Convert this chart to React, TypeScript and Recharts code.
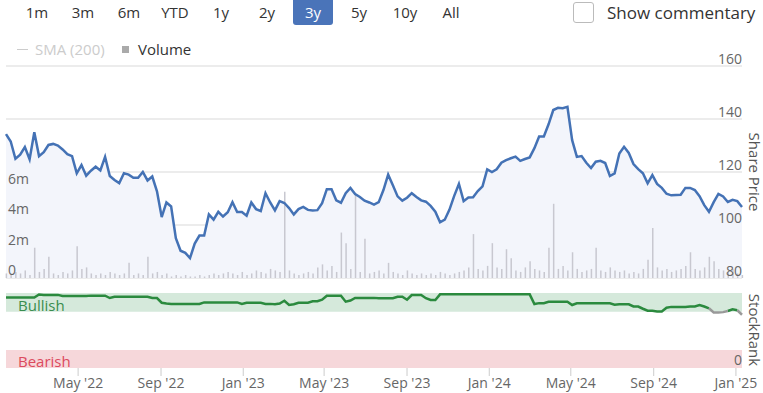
import React from "react";
import {
  ComposedChart,
  Area,
  Line,
  Bar,
  XAxis,
  YAxis,
  CartesianGrid,
  ReferenceArea,
} from "recharts";

const FONT = "'Open Sans', sans-serif";

const ranges = ["1m", "3m", "6m", "YTD", "1y", "2y", "3y", "5y", "10y", "All"];
const selectedRange = "3y";

// weekly closes, first week ending 14 Jan 2022
const firstWeek = "2022-01-14";

const prices = [
  134.3, 131.5, 125, 126.5, 129.4, 124.8, 135, 126, 127.5, 130.2,
  130.6, 130, 128.5, 126.7, 126, 119.5, 122.6, 118.6, 120.5, 122,
  120.6, 125.7, 118.5, 117, 115.8, 119.5, 119, 117.8, 117.8, 120,
  116.8, 118.3, 112.7, 103, 108.5, 107, 95, 90.3, 89.5, 87.5,
  93, 96, 96, 104, 102, 105, 103.2, 104.8, 108.6, 104.9,
  104.9, 103.5, 108.5, 106, 105.3, 112, 108.5, 105.5, 109, 108.3,
  106.4, 104, 106, 106.8, 105.7, 105.5, 105.6, 108.2, 113.5, 113.5,
  109.3, 108.4, 112, 114, 111.7, 110.6, 109.2, 108.5, 107.7, 108.6,
  113.2, 119, 115, 110.8, 109.2, 110.3, 112, 110.6, 109.3, 108.8,
  107.2, 105, 101, 102, 105.8, 111, 115.5, 109, 110.4, 110.5,
  112.8, 114.6, 121, 120, 121, 123.5, 124.5, 125.2, 125.8, 124.2,
  124.9, 125.5, 129, 133.4, 133.4, 138, 143.4, 144.2, 144.1, 144.6,
  132, 125.7, 126, 123.5, 121.5, 123.9, 124.2, 123.4, 118.5, 119.5,
  127, 129.5, 127.2, 123, 121.1, 119.5, 115.7, 118.8, 115.5, 114,
  111.8, 111.2, 111.3, 111.4, 114, 114, 113.2, 110.9, 107.5, 105,
  108.6, 111.7, 110.8, 108.7, 109.5, 109, 106.8,
];

// weekly volume, millions
const volumes = [
  0.3, 0.2, 0.4, 0.3, 0.5, 0.2, 2.0, 0.4, 0.6, 1.4,
  0.3, 0.2, 0.4, 0.3, 0.5, 2.1, 0.6, 0.7, 0.3, 0.2,
  0.3, 0.2, 0.4, 0.3, 0.2, 0.3, 1.0, 0.2, 0.3, 0.2,
  1.4, 0.3, 0.4, 0.2, 0.3, 0.1, 0.2, 0.1, 0.2, 0.1,
  0.1, 0.2, 0.1, 0.2, 0.3, 0.2, 0.3, 0.4, 0.3, 0.2,
  0.4, 0.2, 0.3, 0.5, 0.4, 0.3, 0.6, 0.5, 0.4, 5.7,
  0.5, 0.3, 0.2, 0.3, 0.4, 0.3, 0.7, 0.9, 0.5, 0.8,
  0.4, 3.0, 2.3, 0.6, 5.5, 0.4, 2.6, 0.3, 0.4, 0.5,
  0.3, 1.0, 0.4, 0.3, 0.2, 0.5, 0.3, 0.2, 0.3, 0.2,
  0.3, 0.2, 0.4, 0.3, 0.2, 0.3, 0.4, 0.5, 0.7, 2.9,
  0.6, 0.5, 0.8, 2.3, 0.7, 0.6, 1.9, 1.3, 0.5, 0.4,
  0.7, 1.1, 0.6, 0.5, 0.4, 2.0, 4.9, 0.6, 0.8, 0.5,
  1.7, 0.6, 0.4, 0.5, 0.6, 2.0, 0.5, 0.4, 0.7, 0.5,
  0.4, 0.5, 0.3, 0.4, 0.3, 0.6, 1.2, 3.3, 0.7, 0.5,
  0.6, 0.4, 0.5, 0.6, 0.8, 1.7, 0.6, 0.5, 0.7, 1.4,
  1.1, 0.6, 0.5, 0.4, 0.6, 0.3, 0.2,
];

// StockRank, green where confirmed, grey where provisional
const rankBull = [
  94, 94, 94, 94, 94, 94, 94, 98, 97.5, 97.5,
  97.5, 97.5, 96, 96, 96, 96, 96, 96, 96.5, 96.5,
  96.5, 96.5, 93.3, 95, 95, 95, 95, 95, 95, 95,
  95, 93.3, 93.3, 87, 86, 85.3, 85.3, 85.3, 85.3, 85.3,
  85.3, 85.3, 87.5, 87.5, 87.5, 87.5, 87.5, 87.5, 87.5, 87.5,
  85.3, 87, 87, 87, 87, 85.5, 85.5, 85, 86, 89.7,
  84, 85, 87, 87, 87, 89, 89, 91, 96.4, 96.4,
  96.4, 96.4, 88.4, 90, 93.5, 93.5, 93.5, 93.5, 93.5, 93,
  93, 93, 93, 95, 95, 91, 97.3, 97.3, 97.3, 93,
  90.7, 90.7, 98.2, 98.2, 98.2, 98.2, 98.2, 98.2, 98.2, 98.2,
  98.2, 98.2, 98.2, 98.2, 98.2, 98.2, 98.2, 98.2, 98.2, 98.2,
  98.2, 98.2, 85.3, 86.5, 86.5, 88.4, 88.4, 88.4, 88.4, 88.4,
  84, 86.2, 86.2, 86.2, 86.2, 86.2, 86.2, 86.2, 86.2, 84.5,
  85, 85, 85, 82, 82, 79, 76.4, 76.4, 75.5, 75.5,
  80.4, 81.5, 81.5, 81.5, 81.5, 82, 82, 84, 82, 79.6,
  null, null, null, 76, 78.2, 77, null,
];
const rankGrey: (number | null)[] = [
  ...Array(149).fill(null),
  79.6, 74, 74, 74.5, 76, null, 77, 71,
];

const priceTicks = [80, 100, 120, 140, 160];
const volumeTicks = [0, 2, 4, 6];
const volumeLabels = ["0", "2m", "4m", "6m"];
const rankTicks = [0];
const monthTicks = [
  "2022-05-01", "2022-09-01", "2023-01-01", "2023-05-01", "2023-09-01",
  "2024-01-01", "2024-05-01", "2024-09-01", "2025-01-01",
];
const monthLabels = [
  "May '22", "Sep '22", "Jan '23", "May '23", "Sep '23",
  "Jan '24", "May '24", "Sep '24", "Jan '25",
];

const WEEK = 7 * 24 * 3600 * 1000;
const t0 = Date.parse(firstWeek);
const rows = prices.map((p, i) => ({
  t: t0 + i * WEEK,
  price: p,
  volume: volumes[i],
  bull: rankBull[i],
  grey: rankGrey[i],
}));
const tEnd = rows[rows.length - 1].t;
const tickTs = monthTicks.map((d) => Date.parse(d));

const axisText = { fill: "#666", fontSize: 14, fontFamily: FONT };

const PriceTick = (props: any) => (
  <text x={742} y={props.y - 2} textAnchor="end" {...axisText}>
    {props.payload.value}
  </text>
);

const VolTick = (props: any) => (
  <text x={8} y={props.y - 3} textAnchor="start" {...axisText}>
    {volumeLabels[volumeTicks.indexOf(props.payload.value)]}
  </text>
);

const RankTick = (props: any) => (
  <text x={742} y={props.y - 3} textAnchor="end" {...axisText}>
    {props.payload.value}
  </text>
);

const MonthTick = (props: any) => (
  <text x={props.x} y={props.y + 10} textAnchor="middle" {...axisText}>
    {monthLabels[tickTs.indexOf(props.payload.value)]}
  </text>
);

const BandLabel = (props: any) => {
  const vb = props.viewBox || {};
  return (
    <text
      x={vb.x + 12}
      y={vb.y + vb.height - 1}
      fill={props.color}
      fontSize={15}
      fontFamily={FONT}
    >
      {props.text}
    </text>
  );
};

export default function App() {
  return (
    <div
      style={{
        position: "absolute",
        left: 0,
        top: 0,
        width: 763,
        height: 393,
        background: "#fff",
        fontFamily: FONT,
        overflow: "hidden",
      }}
    >
      {/* range selector */}
      <div style={{ position: "absolute", left: 14, top: 0, display: "flex" }}>
        {ranges.map((r) => {
          const on = r === selectedRange;
          return (
            <div
              key={r}
              style={{
                width: 40,
                margin: "0 3px",
                height: 25,
                lineHeight: "25px",
                textAlign: "center",
                fontSize: 15,
                color: on ? "#fff" : "#333",
                background: on ? "#4a74b9" : "transparent",
                borderRadius: "0 0 3px 3px",
              }}
            >
              {r}
            </div>
          );
        })}
      </div>
      <div
        style={{
          position: "absolute",
          left: 573,
          top: 2,
          width: 19,
          height: 19,
          border: "1px solid #bbb",
          borderRadius: 3,
        }}
      />
      <div
        style={{
          position: "absolute",
          left: 607,
          top: 0,
          height: 26,
          lineHeight: "26px",
          fontSize: 17,
          color: "#333",
          whiteSpace: "nowrap",
        }}
      >
        Show commentary
      </div>

      {/* legend */}
      <div style={{ position: "absolute", left: 17, top: 49, width: 11, height: 1, background: "#ccc" }} />
      <div style={{ position: "absolute", left: 35, top: 38, lineHeight: "22px", fontSize: 15, color: "#ccc", whiteSpace: "nowrap" }}>
        SMA (200)
      </div>
      <div style={{ position: "absolute", left: 122, top: 46, width: 7, height: 7, background: "#aaa" }} />
      <div style={{ position: "absolute", left: 138, top: 38, lineHeight: "22px", fontSize: 15, color: "#333", whiteSpace: "nowrap" }}>
        Volume
      </div>

      {/* price + volume panel */}
      <div style={{ position: "absolute", left: 0, top: 0 }}>
        <ComposedChart
          width={763}
          height={300}
          data={rows}
          margin={{ top: 66, right: 20, bottom: 22, left: 5 }}
        >
          <CartesianGrid yAxisId="price" vertical={false} stroke="#e6e6e6" strokeWidth={1.5} />
          <XAxis dataKey="t" type="number" domain={[t0, tEnd]} hide />
          <YAxis
            yAxisId="price"
            orientation="right"
            domain={[80, 160]}
            ticks={priceTicks}
            interval={0}
            width={1}
            axisLine={false}
            tickLine={false}
            tick={<PriceTick />}
          />
          <YAxis
            yAxisId="vol"
            orientation="left"
            domain={[0, 14]}
            ticks={volumeTicks}
            interval={0}
            width={1}
            axisLine={false}
            tickLine={false}
            tick={<VolTick />}
          />
          <Area
            yAxisId="price"
            dataKey="price"
            stroke="none"
            fill="#f3f5fb"
            fillOpacity={1}
            baseValue={80}
            isAnimationActive={false}
          />
          <Bar yAxisId="vol" dataKey="volume" fill="#c8c8d0" barSize={1.5} isAnimationActive={false} />
          <Line
            yAxisId="price"
            dataKey="price"
            stroke="#4472b5"
            strokeWidth={2.5}
            dot={false}
            isAnimationActive={false}
          />
        </ComposedChart>
      </div>

      {/* StockRank panel */}
      <div style={{ position: "absolute", left: 0, top: 280 }}>
        <ComposedChart
          width={763}
          height={113}
          data={rows}
          margin={{ top: 13, right: 20, bottom: 0, left: 6 }}
        >
          <XAxis
            dataKey="t"
            type="number"
            domain={[t0, tEnd]}
            ticks={tickTs}
            interval={0}
            height={25}
            tickSize={8}
            axisLine={false}
            tickLine={{ stroke: "#ccc" }}
            tick={<MonthTick />}
          />
          <YAxis
            yAxisId="rank"
            orientation="right"
            domain={[0, 100]}
            ticks={rankTicks}
            interval={0}
            width={1}
            axisLine={false}
            tickLine={false}
            tick={<RankTick />}
          />
          <ReferenceArea
            yAxisId="rank"
            y1={75}
            y2={100}
            fill="#d5e9db"
            fillOpacity={1}
            stroke="none"
            label={<BandLabel text="Bullish" color="#3a8d4e" />}
          />
          <ReferenceArea
            yAxisId="rank"
            y1={0}
            y2={24}
            fill="#f6d7da"
            fillOpacity={1}
            stroke="none"
            label={<BandLabel text="Bearish" color="#dc4a5e" />}
          />
          <Line
            yAxisId="rank"
            dataKey="bull"
            stroke="#2b8a3e"
            strokeWidth={2.5}
            dot={false}
            isAnimationActive={false}
          />
          <Line
            yAxisId="rank"
            dataKey="grey"
            stroke="#999"
            strokeWidth={2.5}
            dot={false}
            isAnimationActive={false}
          />
        </ComposedChart>
      </div>

      {/* rotated axis titles */}
      <div
        style={{
          position: "absolute",
          left: 754,
          top: 172,
          transform: "translate(-50%, -50%) rotate(90deg)",
          fontSize: 15,
          lineHeight: "15px",
          color: "#555",
          whiteSpace: "nowrap",
        }}
      >
        Share Price
      </div>
      <div
        style={{
          position: "absolute",
          left: 754,
          top: 330,
          transform: "translate(-50%, -50%) rotate(90deg)",
          fontSize: 15,
          lineHeight: "15px",
          color: "#555",
          whiteSpace: "nowrap",
        }}
      >
        StockRank
      </div>
    </div>
  );
}
